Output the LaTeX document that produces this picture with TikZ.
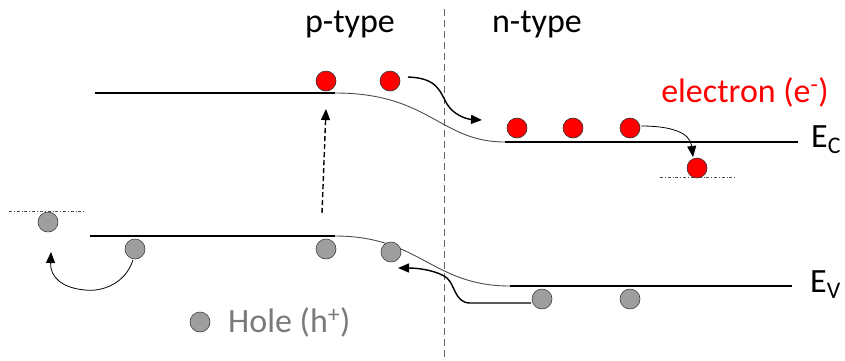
\documentclass[tikz,border=0pt]{standalone}
\usepackage{fontspec}
\setmainfont{Carlito}
\usetikzlibrary{arrows.meta}
\begin{document}
\begin{tikzpicture}[x=1pt,y=-1pt,
  band/.style={line width=1.2pt,black},
  bandcurve/.style={line width=0.9pt,black!70},
  elec/.style={circle,draw=black!80,line width=0.6pt,fill=red,minimum size=20pt,inner sep=0},
  hole/.style={circle,draw=black!75,line width=0.6pt,fill=black!38,minimum size=20pt,inner sep=0},
  lbl/.style={font=\fontsize{34}{40}\selectfont,inner sep=0,anchor=base},
  bigarrow/.style={line width=1.4pt,-{Triangle[length=11pt,width=9pt]}},
  smallarrow/.style={line width=0.8pt,-{Triangle[length=11pt,width=9pt]}},
  level/.style={line width=0.7pt,black!70,dash dot},
]
\useasboundingbox (0,0) rectangle (845,360);

% junction
\coordinate (jt) at (444,9);
\coordinate (jb) at (444,360);
\draw[black!60,line width=0.8pt,dash pattern=on 7pt off 4pt] (jt) -- (jb);

% labels
\node[lbl] (ptype) at (350,32) {p-type};
\node[lbl] (ntype) at (537,32) {n-type};
\node[lbl,text=red] (elab) at (745,102) {electron (e\textsuperscript{-})};
\node[lbl,anchor=base west] (ec) at (811,147) {E\textsubscript{C}};
\node[lbl,anchor=base west] (ev) at (810,292) {E\textsubscript{V}};

% conduction band
\coordinate (c0) at (95,93);
\coordinate (c1) at (335,93);
\coordinate (c2) at (505,142);
\coordinate (c3) at (798,142);
\draw[band] (c0) -- (c1);
\draw[bandcurve] (c1) .. controls (430,93) and (440,142) .. (c2);
\draw[band] (c2) -- (c3);

% valence band
\coordinate (v0) at (90,236);
\coordinate (v1) at (335,236);
\coordinate (v2) at (510,286);
\coordinate (v3) at (792,286);
\draw[band] (v0) -- (v1);
\draw[bandcurve] (v1) .. controls (420,236) and (432,286) .. (v2);
\draw[band] (v2) -- (v3);

% trap levels
\coordinate (tl0) at (9,211);
\coordinate (tl1) at (86,211);
\draw[level] (tl0) -- (tl1);
\coordinate (tr0) at (660,177);
\coordinate (tr1) at (737,177);
\draw[level] (tr0) -- (tr1);

% electrons
\node[elec] (e1) at (326,81) {};
\node[elec] (e2) at (390,81) {};
\node[elec] (e3) at (517,128) {};
\node[elec] (e4) at (573,128) {};
\node[elec] (e5) at (630,128) {};
\node[elec] (e6) at (697,168) {};

% holes
\node[hole] (h0) at (48,222) {};
\node[hole] (h1) at (135,249) {};
\node[hole] (h2) at (326,249) {};
\node[hole] (h3) at (391,252) {};
\node[hole] (h4) at (542,299) {};
\node[hole] (h5) at (630,299) {};
\node[hole] (hk) at (200,322) {};
\node[lbl,anchor=base west,text=black!52] (hlab) at (228,332) {Hole (h\textsuperscript{+})};

% excitation arrow
\coordinate (xa) at (322,213);
\coordinate (xb) at (326,109);
\draw[line width=1.4pt,dash pattern=on 5pt off 3pt,-{Triangle[length=11pt,width=9pt]}] (xa) -- (xb);

% electron drift
\coordinate (ea) at (408,77);
\coordinate (eb) at (482,120);
\draw[bigarrow] (ea) .. controls (438,78) and (440,92) .. (447,104) .. controls (453,114) and (465,119) .. (eb);

% electron trapping
\coordinate (ta) at (641,126);
\coordinate (tb) at (693,157);
\draw[smallarrow] (ta) .. controls (670,126) and (690,132) .. (tb);

% hole drift
\coordinate (ha) at (531,303);
\coordinate (hb) at (398,268);
\draw[bigarrow] (ha) -- (470,303) .. controls (455,303) and (455,285) .. (447,278) .. controls (438,271) and (420,268) .. (hb);

% hole trapping
\coordinate (ka) at (133,260);
\coordinate (kb) at (51,252);
\draw[smallarrow] (ka) .. controls (125,285) and (100,292) .. (85,290) .. controls (62,288) and (50,277) .. (kb);
\end{tikzpicture}
\end{document}
